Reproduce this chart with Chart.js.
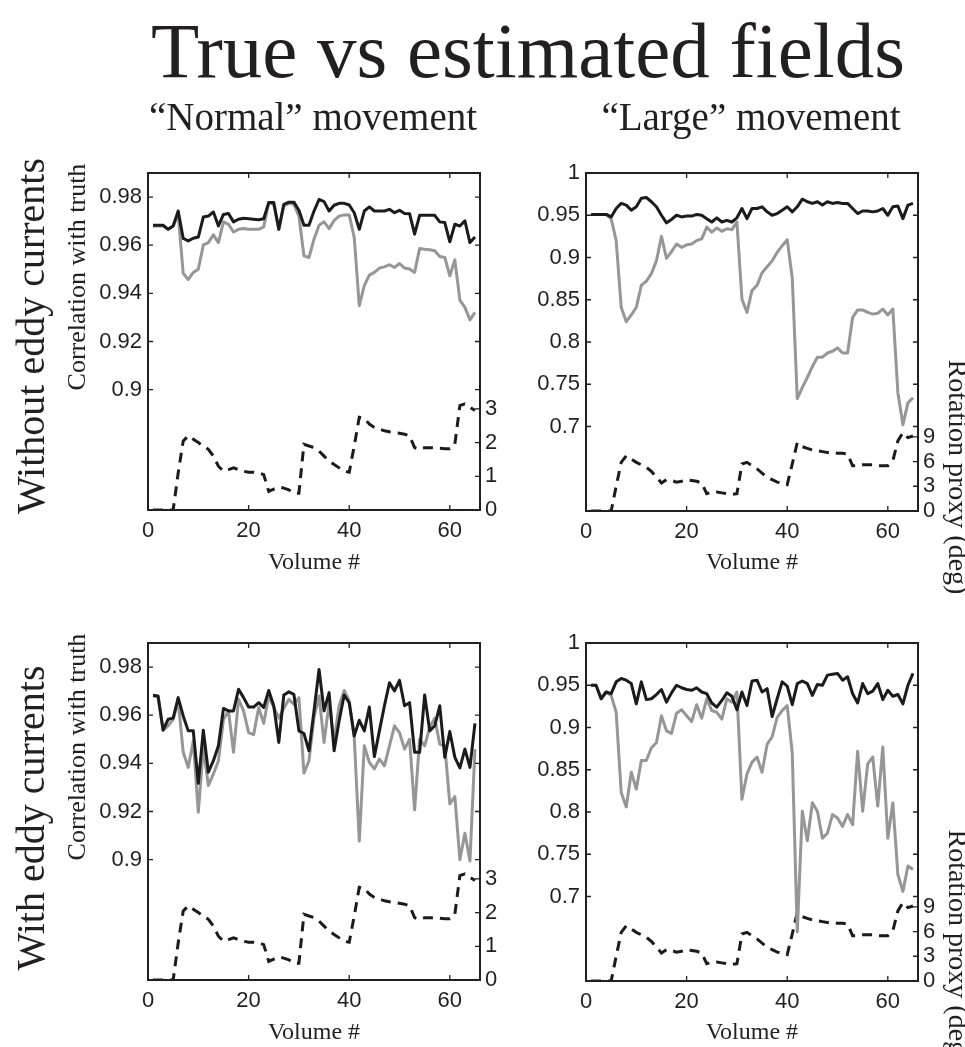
<!DOCTYPE html>
<html>
<head>
<meta charset="utf-8">
<script src="https://cdn.jsdelivr.net/npm/chart.js@4.4.1/dist/chart.umd.min.js"></script>
<style>
  html, body { margin:0; padding:0; background:#ffffff; }
  #page { position:relative; width:965px; height:1047px; overflow:hidden; background:#fff; }
  canvas { position:absolute; }
  svg { position:absolute; left:0; top:0; pointer-events:none; }
</style>
</head>
<body>
<div id="page">
  <canvas id="c1" width="435" height="400" style="left:90px;top:150px"></canvas>
  <canvas id="c2" width="420" height="400" style="left:528px;top:150px"></canvas>
  <canvas id="c3" width="435" height="400" style="left:90px;top:620px"></canvas>
  <canvas id="c4" width="420" height="400" style="left:528px;top:620px"></canvas>
  <svg width="965" height="1047" font-family="'Liberation Serif','Times New Roman',serif" fill="#231f20">
    <text x="528" y="77" font-size="79" text-anchor="middle">True vs estimated fields</text>
    <text x="313" y="130" font-size="39" text-anchor="middle">“Normal” movement</text>
    <text x="751" y="130" font-size="39" text-anchor="middle">“Large” movement</text>
    <text transform="translate(44,336) rotate(-90)" font-size="40" text-anchor="middle">Without eddy currents</text>
    <text transform="translate(44,818) rotate(-90)" font-size="40" text-anchor="middle">With eddy currents</text>
    <text transform="translate(85,277) rotate(-90)" font-size="26" text-anchor="middle">Correlation with truth</text>
    <text transform="translate(85,747) rotate(-90)" font-size="26" text-anchor="middle">Correlation with truth</text>
    <text transform="translate(949,477) rotate(90)" font-size="28" text-anchor="middle">Rotation proxy (deg)</text>
    <text transform="translate(949,947) rotate(90)" font-size="28" text-anchor="middle">Rotation proxy (deg)</text>
    <text x="314" y="569" font-size="24" text-anchor="middle">Volume #</text>
    <text x="752" y="569" font-size="24" text-anchor="middle">Volume #</text>
    <text x="314" y="1039" font-size="24" text-anchor="middle">Volume #</text>
    <text x="752" y="1039" font-size="24" text-anchor="middle">Volume #</text>
  </svg>
</div>
<script>
// ---------------- DATA ----------------
const volumes = [1,2,3,4,5,6,7,8,9,10,11,12,13,14,15,16,17,18,19,20,21,22,23,24,25,26,27,28,29,30,31,32,33,34,35,36,37,38,39,40,41,42,43,44,45,46,47,48,49,50,51,52,53,54,55,56,57,58,59,60,61,62,63,64,65];

const xTickValues = [0,20,40,60];
const corrTicksNormal = [0.9,0.92,0.94,0.96,0.98];
const corrTicksLarge = [0.7,0.75,0.8,0.85,0.9,0.95,1];
const rotTicksNormal = [0,1,2,3];
const rotTicksLarge = [0,3,6,9];

// "Normal" movement, without eddy currents
const normalNoEddyBlack = [0.9683,0.9683,0.9683,0.9666,0.968,0.9742,0.9628,0.9618,0.9629,0.9634,
  0.9717,0.9721,0.9738,0.968,0.9728,0.9732,0.9697,0.9708,0.9712,0.971,
  0.9708,0.9706,0.971,0.9777,0.9777,0.9666,0.977,0.9779,0.9779,0.9745,
  0.9683,0.9683,0.9742,0.979,0.9781,0.9742,0.9766,0.9774,0.9774,0.9767,
  0.9735,0.9666,0.9742,0.9759,0.9742,0.9742,0.9742,0.9749,0.9735,0.9745,
  0.9732,0.9731,0.9646,0.9724,0.9724,0.9724,0.9724,0.9697,0.9694,0.9614,
  0.9687,0.968,0.9701,0.9611,0.9634];
const normalNoEddyGray = [0.968,0.968,0.968,0.9666,0.968,0.9728,0.9483,0.9457,0.9487,0.950,
  0.9601,0.9611,0.9643,0.9611,0.9697,0.9687,0.9655,0.9666,0.9669,0.9666,
  0.9666,0.9666,0.9676,0.9777,0.977,0.9666,0.9763,0.9774,0.977,0.9721,
  0.9556,0.9549,0.9625,0.9683,0.9697,0.9669,0.9703,0.9721,0.9726,0.9726,
  0.9632,0.9349,0.9432,0.9476,0.9487,0.9505,0.951,0.9519,0.9508,0.9524,
  0.9505,0.9501,0.9487,0.9586,0.9583,0.9581,0.9577,0.9553,0.9549,0.9473,
  0.9539,0.9372,0.9342,0.929,0.9321];

// "Normal" movement, with eddy currents
const normalEddyBlack = [0.9683,0.968,0.9538,0.9583,0.9588,0.9673,0.9597,0.9535,0.9535,0.9317,
  0.9538,0.9363,0.9411,0.9473,0.9628,0.9618,0.9618,0.9708,0.9673,0.9634,
  0.9634,0.9652,0.9632,0.9703,0.9639,0.9487,0.9684,0.9697,0.9687,0.9535,
  0.9524,0.9452,0.9618,0.979,0.9618,0.9694,0.9452,0.9577,0.9684,0.9652,
  0.9514,0.9579,0.9535,0.9634,0.9428,0.9535,0.9639,0.9735,0.9701,0.9745,
  0.9639,0.9652,0.9446,0.9446,0.9684,0.9535,0.9556,0.9639,0.9425,0.9532,
  0.9425,0.9381,0.9459,0.9383,0.9566];
const normalEddyGray = [0.968,0.9677,0.9538,0.9556,0.9583,0.9659,0.9446,0.9383,0.9494,0.9197,
  0.9466,0.9308,0.9356,0.9411,0.9583,0.9618,0.9446,0.9666,0.9618,0.9528,
  0.9519,0.9632,0.9566,0.968,0.9632,0.9588,0.9629,0.9666,0.9646,0.9673,
  0.9359,0.9411,0.959,0.968,0.9487,0.9652,0.9494,0.9639,0.9703,0.9659,
  0.9508,0.9077,0.9473,0.9404,0.9377,0.9418,0.939,0.9473,0.9556,0.9528,
  0.9459,0.95,0.9207,0.95,0.9473,0.9549,0.9588,0.948,0.9473,0.9232,
  0.9262,0.9,0.911,0.8994,0.9459];

// Rotation proxy, "Normal" movement (deg)
const rotationNormal = [0,0,0,0,0,1.1,2.05,2.2,2.1,2.0,
  1.9,1.8,1.6,1.3,1.15,1.2,1.25,1.2,1.15,1.12,
  1.12,1.1,1.05,0.55,0.62,0.68,0.65,0.6,0.5,0.5,
  1.95,1.9,1.85,1.75,1.6,1.45,1.35,1.25,1.15,1.12,
  1.9,2.75,2.72,2.55,2.45,2.4,2.35,2.32,2.3,2.28,
  2.25,2.2,1.85,1.8,1.85,1.85,1.85,1.83,1.82,1.82,
  1.95,3.1,3.15,3.05,2.95];

// "Large" movement, without eddy currents
const largeNoEddyBlack = [0.951,0.951,0.951,0.951,0.948,0.958,0.964,0.962,0.956,0.960,
  0.970,0.971,0.966,0.960,0.950,0.941,0.945,0.950,0.948,0.949,
  0.949,0.951,0.950,0.946,0.942,0.947,0.942,0.944,0.942,0.947,
  0.958,0.946,0.958,0.958,0.960,0.954,0.950,0.952,0.956,0.960,
  0.954,0.960,0.969,0.966,0.964,0.966,0.962,0.966,0.964,0.965,
  0.964,0.964,0.958,0.952,0.955,0.955,0.954,0.955,0.958,0.950,
  0.960,0.961,0.946,0.962,0.964];
const largeNoEddyGray = [0.951,0.951,0.951,0.951,0.946,0.920,0.841,0.824,0.832,0.841,
  0.867,0.872,0.881,0.896,0.925,0.899,0.907,0.916,0.912,0.915,
  0.916,0.920,0.922,0.936,0.930,0.935,0.931,0.934,0.933,0.942,
  0.851,0.835,0.861,0.867,0.882,0.889,0.896,0.906,0.914,0.921,
  0.876,0.733,0.746,0.758,0.771,0.782,0.782,0.787,0.789,0.793,
  0.787,0.787,0.829,0.838,0.838,0.835,0.833,0.834,0.839,0.832,
  0.839,0.740,0.702,0.728,0.734];

// "Large" movement, with eddy currents
const largeEddyBlack = [0.950,0.950,0.934,0.942,0.940,0.954,0.958,0.956,0.952,0.928,
  0.954,0.933,0.934,0.939,0.945,0.930,0.941,0.950,0.947,0.945,
  0.944,0.947,0.942,0.940,0.929,0.924,0.932,0.941,0.937,0.921,
  0.942,0.926,0.955,0.956,0.942,0.946,0.913,0.934,0.954,0.949,
  0.927,0.952,0.955,0.952,0.938,0.951,0.950,0.962,0.963,0.964,
  0.956,0.960,0.940,0.929,0.952,0.940,0.943,0.952,0.933,0.944,
  0.937,0.939,0.928,0.950,0.964];
const largeEddyGray = [0.950,0.950,0.934,0.942,0.938,0.918,0.823,0.806,0.847,0.827,
  0.861,0.861,0.876,0.882,0.914,0.896,0.893,0.917,0.921,0.914,
  0.907,0.927,0.911,0.934,0.920,0.918,0.910,0.934,0.930,0.942,
  0.815,0.845,0.859,0.865,0.847,0.880,0.889,0.912,0.920,0.926,
  0.870,0.658,0.801,0.766,0.811,0.801,0.769,0.775,0.797,0.793,
  0.783,0.797,0.785,0.872,0.801,0.857,0.865,0.807,0.877,0.769,
  0.811,0.726,0.706,0.736,0.732];

// Rotation proxy, "Large" movement (deg)
const rotationLarge = [0,0,0,0,0,3.0,5.9,6.7,6.3,5.9,
  5.6,5.3,4.8,4.1,3.4,3.8,3.7,3.5,3.6,3.8,
  3.7,3.6,3.4,2.1,2.3,2.3,2.2,2.1,2.0,2.1,
  5.7,5.9,5.5,5.1,4.6,4.1,3.8,3.5,3.4,3.2,
  5.7,8.3,7.8,7.6,7.4,7.3,7.2,7.1,7.1,7.0,
  7.0,6.9,5.5,5.5,5.6,5.6,5.6,5.5,5.5,5.5,
  6.1,8.5,9.5,8.9,9.1];

// ---------------- STYLE ----------------
const INK = '#231f20';
const BLACK = '#1b1b1b';
const GRAY = '#969696';
const tickFont = { family: "'Liberation Sans', Arial, Helvetica, sans-serif", size: 22 };
const noGrid = { display: false, drawTicks: false, tickLength: 0 };

const framePlugin = {
  id: 'frame',
  afterDraw(chart) {
    const { ctx, chartArea } = chart;
    const { left, right, top, bottom } = chartArea;
    const sx = chart.scales.x, yl = chart.scales.yL, yr = chart.scales.yR;
    const tl = 5;
    ctx.save();
    ctx.strokeStyle = INK;
    ctx.lineWidth = 1.3;
    ctx.beginPath();
    sx.ticks.forEach(t => {
      const p = sx.getPixelForValue(t.value);
      ctx.moveTo(p, bottom); ctx.lineTo(p, bottom - tl);
      ctx.moveTo(p, top); ctx.lineTo(p, top + tl);
    });
    yl.ticks.forEach(t => {
      const p = yl.getPixelForValue(t.value);
      ctx.moveTo(left, p); ctx.lineTo(left + tl, p);
      ctx.moveTo(right, p); ctx.lineTo(right - tl, p);
    });
    yr.ticks.forEach(t => {
      const p = yr.getPixelForValue(t.value);
      ctx.moveTo(right, p); ctx.lineTo(right - tl, p);
    });
    ctx.stroke();
    ctx.lineWidth = 2;
    ctx.strokeRect(left, top, right - left, bottom - top);
    ctx.restore();
  }
};

const fmt = v => String(+Number(v).toFixed(4));

function pts(series) { return volumes.map((v, i) => ({ x: v, y: series[i] })); }

function makeChart(id, black, gray, rot, corrMin, corrMax, corrTicks, rotMax, rotTicks, rightW, xH) {
  return new Chart(document.getElementById(id), {
    type: 'line',
    data: {
      datasets: [
        { data: pts(black), yAxisID: 'yL', borderColor: BLACK, borderWidth: 3, pointRadius: 0, tension: 0, order: 0, borderJoinStyle: 'round' },
        { data: pts(gray), yAxisID: 'yL', borderColor: GRAY, borderWidth: 3, pointRadius: 0, tension: 0, order: 1, borderJoinStyle: 'round' },
        { data: pts(rot), yAxisID: 'yR', borderColor: BLACK, borderWidth: 3, borderDash: [10, 7], pointRadius: 0, tension: 0, order: 2 }
      ]
    },
    options: {
      responsive: false,
      animation: false,
      devicePixelRatio: 1,
      layout: { padding: { top: 23, left: 0, right: 0, bottom: 0 } },
      plugins: { legend: { display: false }, tooltip: { enabled: false } },
      scales: {
        x: {
          type: 'linear', position: 'bottom', min: 0, max: 66,
          grid: noGrid, border: { display: false },
          afterBuildTicks: s => { s.ticks = xTickValues.map(v => ({ value: v })); },
          ticks: { font: tickFont, color: INK, padding: 8, maxRotation: 0, autoSkip: false, callback: fmt },
          afterFit: s => { s.height = xH; }
        },
        yL: {
          type: 'linear', position: 'left', min: corrMin, max: corrMax,
          grid: noGrid, border: { display: false },
          afterBuildTicks: s => { s.ticks = corrTicks.map(v => ({ value: v })); },
          ticks: { font: tickFont, color: INK, padding: 6, autoSkip: false, callback: fmt },
          afterFit: s => { s.width = 58; }
        },
        yR: {
          type: 'linear', position: 'right', min: 0, max: rotMax,
          grid: noGrid, border: { display: false },
          afterBuildTicks: s => { s.ticks = rotTicks.map(v => ({ value: v })); },
          ticks: { font: tickFont, color: INK, padding: 5, autoSkip: false, callback: fmt },
          afterFit: s => { s.width = rightW; }
        }
      }
    },
    plugins: [framePlugin]
  });
}

makeChart('c1', normalNoEddyBlack, normalNoEddyGray, rotationNormal, 0.85, 0.99, corrTicksNormal, 10, rotTicksNormal, 45, 40);
makeChart('c2', largeNoEddyBlack, largeNoEddyGray, rotationLarge, 0.6, 1, corrTicksLarge, 41, rotTicksLarge, 30, 39);
makeChart('c3', normalEddyBlack, normalEddyGray, rotationNormal, 0.85, 0.99, corrTicksNormal, 10, rotTicksNormal, 45, 40);
makeChart('c4', largeEddyBlack, largeEddyGray, rotationLarge, 0.6, 1, corrTicksLarge, 41, rotTicksLarge, 30, 39);
</script>
</body>
</html>
